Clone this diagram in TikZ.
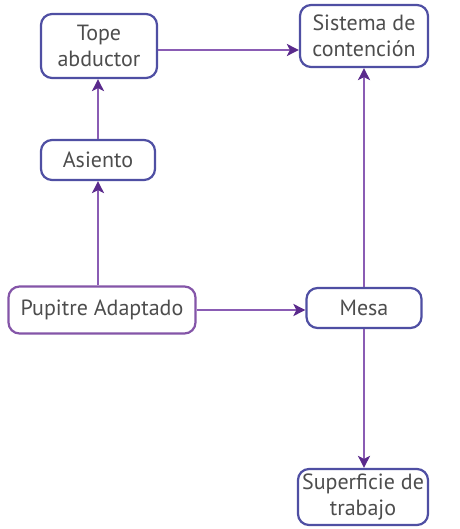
\documentclass[tikz,border=0pt]{standalone}
\usepackage{fontspec}
\setmainfont{PT Sans}
\usetikzlibrary{arrows.meta}
\definecolor{boxblue}{HTML}{4F4FA3}
\definecolor{boxpurple}{HTML}{8455A8}
\definecolor{linepurple}{HTML}{8A5CB4}
\definecolor{tippurple}{HTML}{5A2A8C}
\definecolor{txtgray}{HTML}{4D4D4D}

\begin{document}
\begin{tikzpicture} [x = 1pt, y = -1pt,
	caja/.style = {draw = boxblue, line width = 2.2pt, rounded corners = 11pt,
		fill = white, text = txtgray, align = center, inner sep = 0pt,
		font = \fontsize{22}{26}\selectfont},
	flecha/.style = {draw = linepurple, line width = 2pt,
		-{Stealth[length = 12pt, width = 12pt, inset = 3pt, color = tippurple]}}]
	\useasboundingbox (0,0) rectangle (459,529);

	\node [caja, minimum width = 116pt, minimum height = 64pt] (tope) at (99,46) {Tope\\abductor};
	\node [caja, minimum width = 128pt, minimum height = 62pt] (sistema) at (364,36) {Sistema de\\contención};
	\node [caja, minimum width = 114pt, minimum height = 40pt] (asiento) at (98,160) {Asiento};
	\node [caja, draw = boxpurple, minimum width = 187pt, minimum height = 47pt] (pupitre) at (102,310) {Pupitre Adaptado};
	\node [caja, minimum width = 115pt, minimum height = 40pt] (mesa) at (364,308) {Mesa};
	\node [caja, minimum width = 130pt, minimum height = 56pt] (superficie) at (363,497) {Superficie de\\trabajo};

	\draw [flecha] ([yshift = -4pt]tope.east) -- ([yshift = -4pt]tope.east -| sistema.west);
	\draw [flecha] (asiento.north) -- (asiento.north |- tope.south);
	\draw [flecha] (asiento.south |- pupitre.north) -- (asiento.south);
	\draw [flecha] (pupitre.east) -- (pupitre.east -| mesa.west);
	\draw [flecha] (mesa.north) -- (sistema.south);
	\draw [flecha] (mesa.south) -- (mesa.south |- superficie.north);
\end{tikzpicture}
\end{document}
